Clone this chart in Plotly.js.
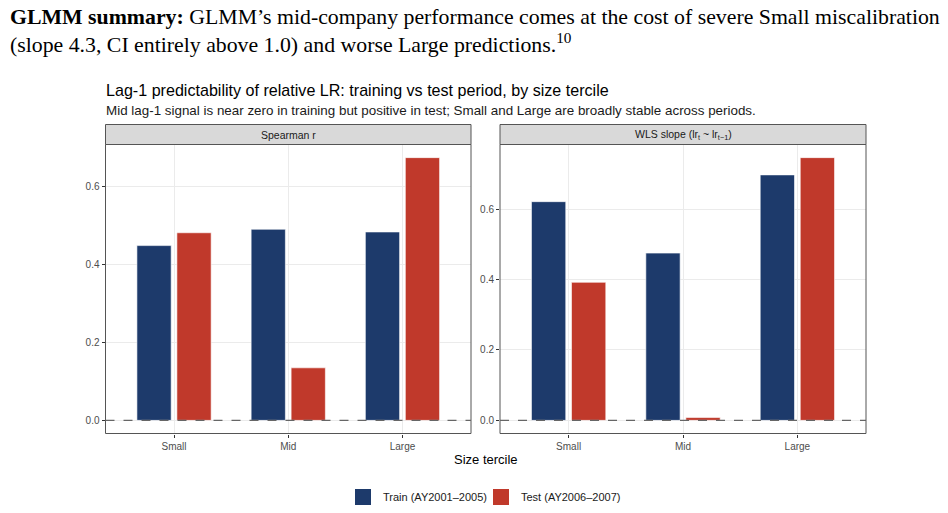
<!DOCTYPE html>
<html>
<head>
<meta charset="utf-8">
<script src="https://cdn.plot.ly/plotly-3.0.1.min.js"></script>
<style>html,body{margin:0;padding:0;background:#fff;}#chart{width:948px;height:513px;}</style>
</head>
<body>
<div id="chart"></div>
<script>
// ---- data ----
const categories = ["Small", "Mid", "Large"];
const seriesNames = ["Train (AY2001\u20132005)", "Test (AY2006\u20132007)"];
const spearmanTrain = [0.449, 0.491, 0.484];
const spearmanTest = [0.482, 0.135, 0.675];
const wlsTrain = [0.621, 0.475, 0.697];
const wlsTest = [0.392, 0.008, 0.746];
const panelTitles = ["Spearman r", "WLS slope (lr<sub>t</sub> ~ lr<sub>t\u22121</sub>)"];
const yTicksLeft = [0, 0.2, 0.4, 0.6];
const yTicksRight = [0, 0.2, 0.4, 0.6];

// ---- styling ----
const W = 948, H = 513;
const px = x => x / W;
const py = y => 1 - y / H;
const navy = "#1D3A6B";
const red = "#C0392B";
const panelL = [105.5, 471];
const panelR = [500, 866];
const panelTop = 144.5, panelBot = 433.5;
const stripTop = 124.5;

function barTrace(vals, color, xa, ya, name) {
  return {
    type: "bar", x: categories, y: vals, xaxis: xa, yaxis: ya,
    marker: {color: color, line: {color: "#ffffff", width: 0.6}},
    showlegend: false, name: name, hoverinfo: "x+y"
  };
}
const traces = [
  barTrace(spearmanTrain, navy, "x", "y", seriesNames[0]),
  barTrace(spearmanTest, red, "x", "y", seriesNames[1]),
  barTrace(wlsTrain, navy, "x2", "y2", seriesNames[0]),
  barTrace(wlsTest, red, "x2", "y2", seriesNames[1]),
  {type: "scatter", mode: "markers", x: [null], y: [null], name: seriesNames[0], legend: "legend",
   marker: {symbol: "square", size: 16, color: navy}, showlegend: true, xaxis: "x", yaxis: "y"},
  {type: "scatter", mode: "markers", x: [null], y: [null], name: seriesNames[1], legend: "legend2",
   marker: {symbol: "square", size: 16, color: red}, showlegend: true, xaxis: "x", yaxis: "y"}
];

function rangeFor(arrs) {
  const mx = Math.max(...arrs.flat());
  const e = mx * 0.05;
  return [-e, mx + e];
}
const tickFont = {family: "Liberation Sans, Arial, sans-serif", size: 10, color: "#4D4D4D"};
function xAxis(dom, anchor) {
  return {
    domain: dom, anchor: anchor, type: "category", range: [-0.6, 2.6],
    showgrid: true, gridcolor: "#EBEBEB", gridwidth: 1,
    ticks: "outside", ticklen: 3, tickcolor: "#333333", tickwidth: 1,
    tickfont: tickFont, showline: false, zeroline: false, fixedrange: true
  };
}
function yAxis(dom, anchor, rng, tv) {
  return {
    domain: dom, anchor: anchor, range: rng,
    tickvals: tv, tickformat: ".1f",
    showgrid: true, gridcolor: "#EBEBEB", gridwidth: 1,
    ticks: "outside", ticklen: 3, tickcolor: "#333333", tickwidth: 1,
    tickfont: tickFont, showline: false, zeroline: false, fixedrange: true
  };
}
const yDom = [py(panelBot), py(panelTop)];

const shapes = [];
[panelL, panelR].forEach(p => {
  shapes.push({type: "rect", xref: "paper", yref: "paper", x0: px(p[0]), x1: px(p[1]),
    y0: py(panelBot), y1: py(panelTop), line: {color: "#555555", width: 1}, fillcolor: "rgba(0,0,0,0)", layer: "above"});
  shapes.push({type: "rect", xref: "paper", yref: "paper", x0: px(p[0]), x1: px(p[1]),
    y0: py(panelTop), y1: py(stripTop), line: {color: "#555555", width: 1}, fillcolor: "#D9D9D9", layer: "above"});
});
shapes.push({type: "line", xref: "x domain", yref: "y", x0: 0, x1: 1, y0: 0, y1: 0,
  line: {color: "#666666", width: 1.2, dash: "dash"}, layer: "above"});
shapes.push({type: "line", xref: "x2 domain", yref: "y2", x0: 0, x1: 1, y0: 0, y1: 0,
  line: {color: "#666666", width: 1.2, dash: "dash"}, layer: "above"});

const serif = "Liberation Serif, Times New Roman, serif";
const sans = "Liberation Sans, Arial, Helvetica, sans-serif";
const annotations = [
  {xref: "paper", yref: "paper", x: px(8), y: py(17), xanchor: "left", yanchor: "middle", showarrow: false,
   text: "<b>GLMM summary:</b> GLMM\u2019s mid-company performance comes at the cost of severe Small miscalibration",
   font: {family: serif, size: 21.8, color: "#000"}},
  {xref: "paper", yref: "paper", x: px(8), y: py(43), xanchor: "left", yanchor: "middle", showarrow: false,
   text: "(slope 4.3, CI entirely above 1.0) and worse Large predictions.<sup>10</sup>",
   font: {family: serif, size: 21.8, color: "#000"}},
  {xref: "paper", yref: "paper", x: px(104), y: py(90), xanchor: "left", yanchor: "middle", showarrow: false,
   text: "Lag-1 predictability of relative LR: training vs test period, by size tercile",
   font: {family: sans, size: 16.1, color: "#000"}},
  {xref: "paper", yref: "paper", x: px(104), y: py(111), xanchor: "left", yanchor: "middle", showarrow: false,
   text: "Mid lag-1 signal is near zero in training but positive in test; Small and Large are broadly stable across periods.",
   font: {family: sans, size: 13.4, color: "#1A1A1A"}},
  {xref: "paper", yref: "paper", x: px((panelL[0] + panelL[1]) / 2), y: py((stripTop + panelTop) / 2), xanchor: "center", yanchor: "middle", showarrow: false,
   text: panelTitles[0], font: {family: sans, size: 10.5, color: "#1A1A1A"}},
  {xref: "paper", yref: "paper", x: px((panelR[0] + panelR[1]) / 2), y: py((stripTop + panelTop) / 2), xanchor: "center", yanchor: "middle", showarrow: false,
   text: panelTitles[1], font: {family: sans, size: 10.5, color: "#1A1A1A"}},
  {xref: "paper", yref: "paper", x: px(485.5), y: py(459), xanchor: "center", yanchor: "middle", showarrow: false,
   text: "Size tercile", font: {family: sans, size: 13, color: "#000"}}
];

const legendBase = {orientation: "h", xanchor: "left", y: py(497), yanchor: "middle",
  font: {family: sans, size: 11, color: "#1A1A1A"}, bgcolor: "rgba(0,0,0,0)", borderwidth: 0};

const layout = {
  width: W, height: H, margin: {l: 0, r: 0, t: 0, b: 0},
  paper_bgcolor: "#fff", plot_bgcolor: "#fff",
  barmode: "group", bargap: 0.3, bargroupgap: 0.143,
  xaxis: xAxis([px(panelL[0]), px(panelL[1])], "y"),
  yaxis: yAxis(yDom, "x", rangeFor([spearmanTrain, spearmanTest]), yTicksLeft),
  xaxis2: xAxis([px(panelR[0]), px(panelR[1])], "y2"),
  yaxis2: yAxis(yDom, "x2", rangeFor([wlsTrain, wlsTest]), yTicksRight),
  shapes: shapes, annotations: annotations,
  showlegend: true,
  legend: Object.assign({}, legendBase, {x: px(343)}),
  legend2: Object.assign({}, legendBase, {x: px(481)}),
  font: {family: sans}
};

Plotly.newPlot("chart", traces, layout, {staticPlot: true, displayModeBar: false});
</script>
</body>
</html>
